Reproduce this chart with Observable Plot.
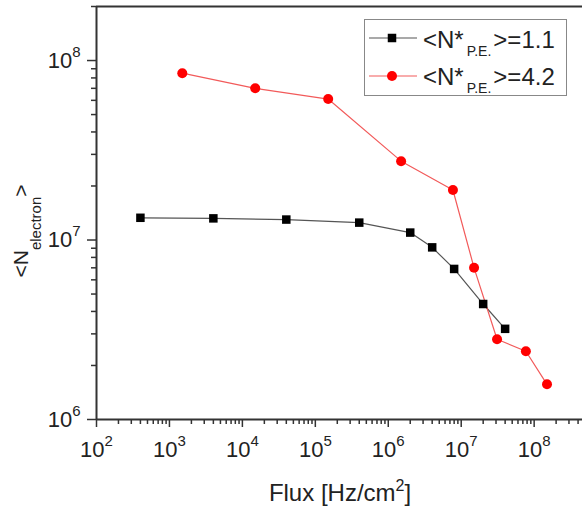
<!DOCTYPE html>
<html>
<head>
<meta charset="utf-8">
<script src="https://cdn.jsdelivr.net/npm/d3@7"></script>
<script src="https://cdn.jsdelivr.net/npm/@observablehq/plot@0.6"></script>
<style>
  html, body { margin: 0; padding: 0; background: #fff; }
  #chart { width: 582px; height: 511px; }
</style>
</head>
<body>
<div id="chart"></div>
<script>
// ---- data ----
const fluxLow = [4e2, 4e3, 4e4, 4e5, 2e6, 4e6, 8e6, 2e7, 4e7];
const nLow    = [1.33e7, 1.32e7, 1.30e7, 1.25e7, 1.10e7, 9.1e6, 6.9e6, 4.4e6, 3.2e6];
const fluxHigh = [1.5e3, 1.5e4, 1.5e5, 1.5e6, 7.7e6, 1.5e7, 3.1e7, 7.7e7, 1.5e8];
const nHigh    = [8.5e7, 7.0e7, 6.1e7, 2.75e7, 1.9e7, 7.0e6, 2.8e6, 2.4e6, 1.57e6];
const seriesNames = ["1.1", "4.2"];
const xMajorTicks = [1e2, 1e3, 1e4, 1e5, 1e6, 1e7, 1e8];
const yMajorTicks = [1e6, 1e7, 1e8];
const xDomain = [1e2, 4.6e8];
const yDomain = [1e6, 2e8];
const xTitle = ["Flux [Hz/cm", "2", "]"];
const yTitle = ["<N", "electron", ">"];

const minorOf = (majors, max) => majors.flatMap(m => [2,3,4,5,6,7,8,9].map(k => k * m)).filter(v => v <= max);
const xMinorTicks = minorOf(xMajorTicks, xDomain[1]);
const yMinorTicks = minorOf(yMajorTicks, yDomain[1]);

const low = fluxLow.map((f, i) => ({flux: f, n: nLow[i]}));
const high = fluxHigh.map((f, i) => ({flux: f, n: nHigh[i]}));

const RED = "#ff0000", RED_LINE = "#f25a5a", BLK = "#000", BLK_LINE = "#555", AX = "#333";
const FONT = "'Liberation Sans', Arial, sans-serif";
const fmt = d => `10^${Math.round(Math.log10(d))}`;

const svg = Plot.plot({
  width: 582, height: 511,
  marginTop: 6, marginLeft: 96, marginRight: 0, marginBottom: 92,
  x: {type: "log", domain: xDomain},
  y: {type: "log", domain: yDomain},
  style: {fontFamily: FONT, fontSize: "22px", color: "#222", background: "#fff", overflow: "visible"},
  marks: [
    Plot.axisX({ticks: xMinorTicks, tickSize: 5, tickFormat: () => "", label: null, strokeWidth: 1.5, stroke: AX}),
    Plot.axisX({ticks: xMajorTicks, tickSize: 8, tickPadding: 14, tickFormat: fmt, label: null, strokeWidth: 1.5, stroke: AX, fill: "#222"}),
    Plot.axisY({ticks: yMinorTicks, tickSize: 5, tickFormat: () => "", label: null, strokeWidth: 1.5, stroke: AX}),
    Plot.axisY({ticks: yMajorTicks, tickSize: 9, tickPadding: 7, tickFormat: fmt, label: null, strokeWidth: 1.5, stroke: AX, fill: "#222"}),
    Plot.ruleX([xDomain[0]], {stroke: AX, strokeWidth: 2}),
    Plot.ruleY([yDomain[0]], {stroke: AX, strokeWidth: 2}),
    Plot.ruleY([yDomain[1]], {stroke: AX, strokeWidth: 2}),
    Plot.line(low, {x: "flux", y: "n", stroke: BLK_LINE, strokeWidth: 1.2}),
    Plot.line(high, {x: "flux", y: "n", stroke: RED_LINE, strokeWidth: 1.2}),
    Plot.dot(low, {x: "flux", y: "n", symbol: "square", r: 4.8, fill: BLK, stroke: "none"}),
    Plot.dot(high, {x: "flux", y: "n", symbol: "circle", r: 5, fill: RED, stroke: "none"})
  ]
});

const NS = "http://www.w3.org/2000/svg";
// superscript tick labels
svg.querySelectorAll('[aria-label="x-axis tick label"] text, [aria-label="y-axis tick label"] text').forEach(t => {
  const m = (t.textContent || "").match(/^10\^(\d+)$/);
  if (!m) return;
  t.textContent = "";
  const a = document.createElementNS(NS, "tspan"); a.textContent = "10"; t.appendChild(a);
  const b = document.createElementNS(NS, "tspan"); b.textContent = m[1];
  b.setAttribute("font-size", "15"); b.setAttribute("dy", "-11"); t.appendChild(b);
});

const root = d3.select(svg);
// x title
const xt = root.append("text").attr("x", 340).attr("y", 501).attr("text-anchor", "middle")
  .attr("font-family", FONT).attr("font-size", 24).attr("fill", "#222");
xt.append("tspan").text(xTitle[0]);
xt.append("tspan").attr("font-size", 16).attr("dy", -10).text(xTitle[1]);
xt.append("tspan").attr("dy", 10).text(xTitle[2]);
// y title
const yt = root.append("text").attr("transform", "translate(28,231) rotate(-90)").attr("text-anchor", "middle")
  .attr("font-family", FONT).attr("font-size", 21).attr("fill", "#222");
yt.append("tspan").text(yTitle[0]);
yt.append("tspan").attr("font-size", 15).attr("dy", 13).text(yTitle[1]);
yt.append("tspan").attr("dy", -13).text(yTitle[2]);

// legend
const lg = root.append("g");
lg.append("rect").attr("x", 364.5).attr("y", 19.5).attr("width", 202).attr("height", 76)
  .attr("fill", "#fff").attr("stroke", "#888").attr("stroke-width", 1);
const rows = [
  {name: seriesNames[0], line: BLK_LINE, fill: BLK, sym: d3.symbolSquare, size: Math.PI * 4.8 * 4.8, cy: 38, base: 48},
  {name: seriesNames[1], line: RED_LINE, fill: RED, sym: d3.symbolCircle, size: Math.PI * 25, cy: 76, base: 85}
];
rows.forEach(r => {
  lg.append("line").attr("x1", 369).attr("x2", 417).attr("y1", r.cy).attr("y2", r.cy)
    .attr("stroke", r.line).attr("stroke-width", 1.2);
  lg.append("path").attr("d", d3.symbol(r.sym, r.size)()).attr("transform", `translate(392,${r.cy})`).attr("fill", r.fill);
  const t = lg.append("text").attr("x", 423).attr("y", r.base).attr("text-anchor", "start").attr("font-family", FONT)
    .attr("font-size", 24).attr("fill", "#222");
  t.append("tspan").text("<N*");
  t.append("tspan").attr("font-size", 14).attr("dx", 3).attr("dy", 8).text("P.E.");
  t.append("tspan").attr("dx", 2).attr("dy", -8).text(">=" + r.name);
});

document.getElementById("chart").appendChild(svg);
</script>
</body>
</html>
